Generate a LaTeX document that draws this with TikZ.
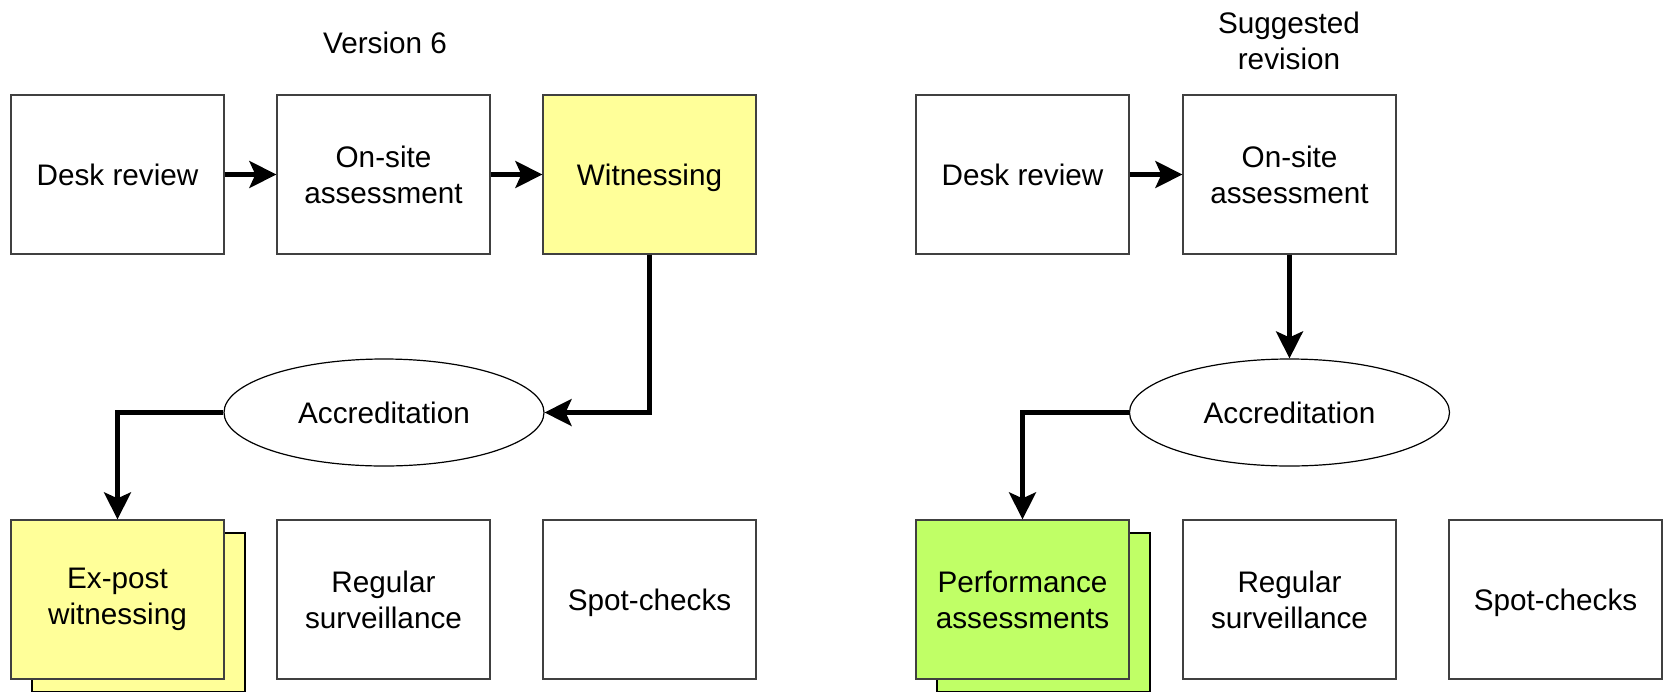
\documentclass[tikz,border=0pt]{standalone}
\usepackage{fontspec}
\setmainfont{Liberation Sans}
\usetikzlibrary{shapes.geometric,arrows.meta}
\definecolor{paleyellow}{RGB}{255,255,153}
\definecolor{palegreen}{RGB}{192,255,102}
\tikzset{
  labeltext/.style={font=\fontsize{29.7}{36}\selectfont, align=center},
  stage/.style={labeltext, rectangle, draw=black!75, line width=1.3pt, fill=white,
    minimum width=213pt, minimum height=159pt, inner sep=0pt},
  outcome/.style={labeltext, ellipse, draw, line width=1.2pt, fill=white,
    minimum width=320pt, minimum height=107pt, inner sep=0pt},
  flow/.style={line width=4.3pt, -{Stealth[length=27pt,width=27pt,inset=6pt]}},
}
\begin{document}
\begin{tikzpicture}[x=1pt,y=-1pt]
  \useasboundingbox (0,0) rectangle (1667,691);
  % version 6
  \node[labeltext] (version) at (385,42.5) {Version 6};
  \node[stage] (desk) at (117.5,174.5) {Desk review};
  \node[stage] (onsite) at (383.5,174.5) {On-site\\assessment};
  \node[stage, fill=paleyellow, text depth=0pt] (witness) at (649.5,174.5) {Witnessing};
  \node[outcome] (accr) at (384,412.5) {Accreditation};
  \node[stage, draw=black, fill=paleyellow] (expostback) at (138.5,612.5) {};
  \node[stage, fill=paleyellow] (expost) at (117.5,599.5) {Ex-post\\witnessing};
  \node[stage] (regular) at (383.5,599.5) {Regular\\surveillance};
  \node[stage, text depth=0pt] (spot) at (649.5,599.5) {Spot-checks};
  % suggested revision
  \node[labeltext] (suggested) at (1289,41) {Suggested\\revision};
  \node[stage] (desk2) at (1022.5,174.5) {Desk review};
  \node[stage] (onsite2) at (1289.5,174.5) {On-site\\assessment};
  \node[outcome] (accr2) at (1289.5,412.5) {Accreditation};
  \node[stage, draw=black, fill=palegreen] (perfback) at (1043.5,612.5) {};
  \node[stage, fill=palegreen] (perf) at (1022.5,599.5) {Performance\\assessments};
  \node[stage] (regular2) at (1289.5,599.5) {Regular\\surveillance};
  \node[stage, text depth=0pt] (spot2) at (1555.5,599.5) {Spot-checks};
  \begin{scope}[flow]
    \draw (desk) to (onsite);
    \draw (onsite) to (witness);
    \draw (witness.south) |- (accr.east);
    \draw (accr.west) -| (expost.north);
    \draw (desk2) to (onsite2);
    \draw (onsite2.south) to (accr2.north);
    \draw (accr2.west) -| (perf.north);
  \end{scope}
\end{tikzpicture}
\end{document}
